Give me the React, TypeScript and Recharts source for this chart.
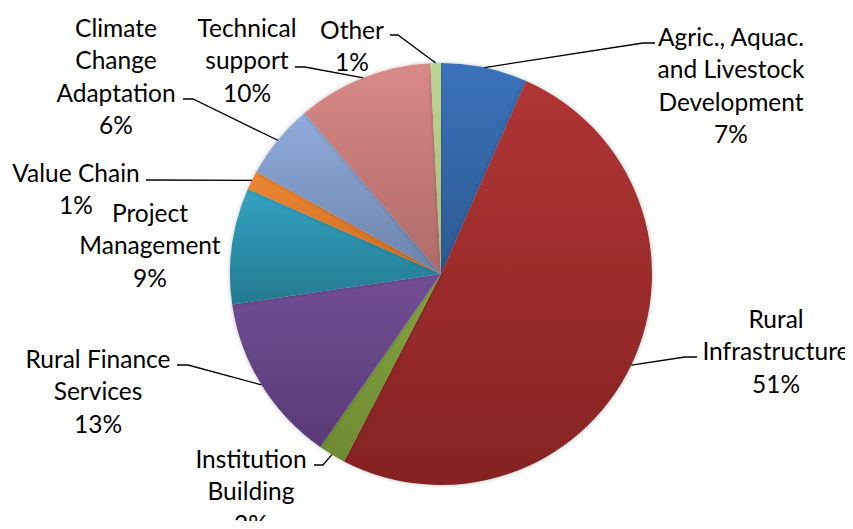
import { Cell, Pie, PieChart } from "recharts";

// Budget share by component (percent of total)
const components = [
  "Agric., Aquac. and Livestock Development",
  "Rural Infrastructure",
  "Institution Building",
  "Rural Finance Services",
  "Project Management",
  "Value Chain",
  "Climate Change Adaptation",
  "Technical support",
  "Other",
];
const shares = [6.6, 51.0, 2.1, 13.0, 8.9, 1.45, 5.75, 10.4, 0.8];

// label text broken the way the chart wraps it
const labelLines = [
  ["Agric., Aquac.", "and Livestock", "Development"],
  ["Rural", "Infrastructure"],
  ["Institution", "Building"],
  ["Rural Finance", "Services"],
  ["Project", "Management"],
  ["Value Chain"],
  ["Climate", "Change", "Adaptation"],
  ["Technical", "support"],
  ["Other"],
];

// top / bottom colours of each slice's vertical gradient
const topColors = ["#3b72ba", "#b03534", "#83a63f", "#724f96", "#33a3c2", "#ec8733", "#90acdc", "#d98a88", "#bcd690"];
const bottomColors = ["#2c5a94", "#852323", "#6d8b32", "#583b77", "#237a90", "#cf6c1e", "#6c83ab", "#ad6a68", "#a3bd77"];

// where each label sits: text centre x, first line centre y, elbow of the leader line
const LAYOUT = [
  { x: 731, y: 36, ex: 643, ey: 43, hx: 655 },
  { x: 776, y: 318, ex: 685, ey: 357, hx: 697 },
  { x: 251, y: 458, ex: 323, ey: 465, hx: 314 },
  { x: 98, y: 358, ex: 188, ey: 365, hx: 177 },
  { x: 150, y: 212, ex: null, ey: 0, hx: 0 },
  { x: 76, y: 172, ex: 150, ey: 180, hx: 146 },
  { x: 116, y: 27, ex: 193, ey: 99, hx: 183 },
  { x: 247, y: 27, ex: 305, ey: 67, hx: 295 },
  { x: 352, y: 29, ex: 398, ey: 35, hx: 390 },
];

const data = components.map((name, i) => ({ name, value: shares[i] }));

const RAD = Math.PI / 180;
const LINE_H = 32.5;

function renderLabel(props: any) {
  const { cx, cy, midAngle, outerRadius, index, percent } = props;
  const lay = LAYOUT[index];
  const lines = [...labelLines[index], `${Math.round(percent * 100)}%`];
  const sx = cx + outerRadius * Math.cos(-midAngle * RAD);
  const sy = cy + outerRadius * Math.sin(-midAngle * RAD);
  return (
    <g key={`lbl-${index}`}>
      {lay.ex !== null ? (
        <polyline
          points={`${sx},${sy} ${lay.ex},${lay.ey} ${lay.hx},${lay.ey}`}
          fill="none"
          stroke="#000"
          strokeWidth={1.3}
        />
      ) : null}
      {lines.map((t, k) => (
        <text
          key={k}
          x={lay.x}
          y={lay.y + k * LINE_H}
          textAnchor="middle"
          dominantBaseline="central"
          fill="#000"
          fontSize={24.5}
          fontFamily="Lato, 'Open Sans', sans-serif"
        >
          {t}
        </text>
      ))}
    </g>
  );
}

export default function App() {
  return (
    <div style={{ width: 853, height: 529, margin: -8, background: "#fff" }}>
      <PieChart width={853} height={529} margin={{ top: 0, right: 0, bottom: 0, left: 0 }}>
        <defs>
          {topColors.map((c, i) => (
            <linearGradient key={i} id={`g${i}`} x1="0" y1="0" x2="0" y2="1">
              <stop offset="0%" stopColor={c} />
              <stop offset="100%" stopColor={bottomColors[i]} />
            </linearGradient>
          ))}
          <filter id="soft" x="-10%" y="-10%" width="120%" height="120%">
            <feDropShadow dx="0" dy="0" stdDeviation="2" floodColor="#000" floodOpacity="0.25" />
          </filter>
        </defs>
        <Pie
          data={data}
          dataKey="value"
          nameKey="name"
          cx={441}
          cy={274}
          outerRadius={211}
          startAngle={90}
          endAngle={-270}
          stroke="none"
          label={renderLabel}
          labelLine={false}
          isAnimationActive={false}
          style={{ filter: "url(#soft)" }}
        >
          {data.map((d, i) => (
            <Cell key={d.name} fill={`url(#g${i})`} />
          ))}
        </Pie>
      </PieChart>
    </div>
  );
}
